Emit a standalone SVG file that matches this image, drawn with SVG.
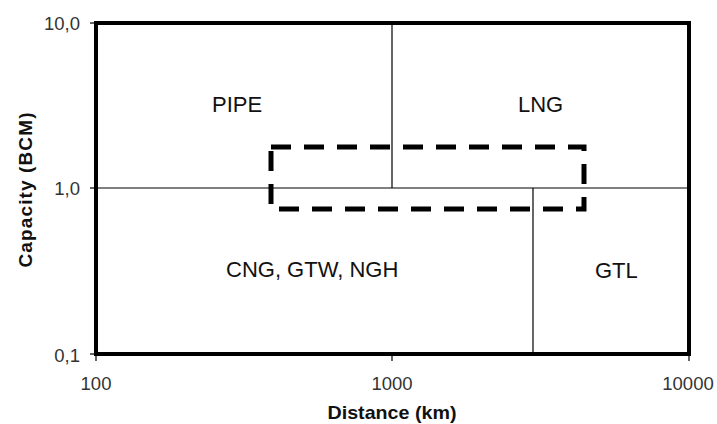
<svg xmlns="http://www.w3.org/2000/svg" width="717" height="424" viewBox="0 0 717 424">
<style>
.tick{font-family:"Liberation Sans",Arial,sans-serif;font-size:18.5px;fill:#333}
.lab{font-family:"Liberation Sans",Arial,sans-serif;font-size:22px;fill:#111}
.ax{font-family:"Liberation Sans",Arial,sans-serif;font-size:19px;font-weight:bold;fill:#111}
.thin{stroke:#000;stroke-width:1.2;fill:none}
</style>
<rect width="717" height="424" fill="#fff"/>
<g id="axes">
<rect x="96" y="23" width="593" height="331" fill="none" stroke="#000" stroke-width="4"/>
<line class="thin" x1="90" y1="23" x2="96" y2="23"/>
<line class="thin" x1="90" y1="188" x2="96" y2="188"/>
<line class="thin" x1="90" y1="354" x2="96" y2="354"/>
<line class="thin" x1="96" y1="354" x2="96" y2="361"/>
<line class="thin" x1="392" y1="354" x2="392" y2="361"/>
<line class="thin" x1="689" y1="354" x2="689" y2="361"/>
<text class="tick" x="80" y="30" text-anchor="end">10,0</text>
<text class="tick" x="80" y="195" text-anchor="end">1,0</text>
<text class="tick" x="80" y="362" text-anchor="end">0,1</text>
<text class="tick" x="96" y="390" text-anchor="middle">100</text>
<text class="tick" x="392" y="390" text-anchor="middle">1000</text>
<text class="tick" x="688" y="390" text-anchor="middle">10000</text>
<text class="ax" x="392" y="419" text-anchor="middle" textLength="129" lengthAdjust="spacingAndGlyphs">Distance (km)</text>
<text class="ax" transform="translate(32,190) rotate(-90)" text-anchor="middle" textLength="155">Capacity (BCM)</text>
</g>
<g id="connectors">
<line class="thin" x1="96" y1="188" x2="689" y2="188"/>
<line class="thin" x1="392" y1="23" x2="392" y2="188"/>
<line class="thin" x1="533" y1="188" x2="533" y2="354"/>
</g>
<g id="pipe"><text class="lab" x="212" y="112">PIPE</text></g>
<g id="lng"><text class="lab" x="518" y="112">LNG</text></g>
<g id="cng"><text class="lab" x="226" y="277">CNG, GTW, NGH</text></g>
<g id="gtl"><text class="lab" x="595" y="278">GTL</text></g>
<g id="window">
<rect x="271" y="147" width="313" height="62" fill="none" stroke="#000" stroke-width="5" stroke-dasharray="20,13"/>
</g>
</svg>
